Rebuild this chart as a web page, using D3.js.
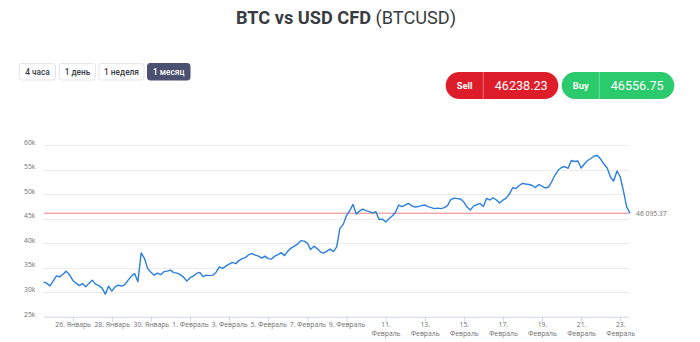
<!DOCTYPE html>
<html>
<head>
<meta charset="utf-8">
<script src="https://cdn.jsdelivr.net/npm/d3@7"></script>
<style>
  html, body { margin: 0; padding: 0; background: #fff; }
  svg { display: block; }
</style>
</head>
<body>
<svg id="chart" width="700" height="342"></svg>
<script>
// BTC/USD price, one reading every 4 hours from 24 Jan 2021 12:00 UTC
const startTime = Date.UTC(2021, 0, 24, 12);
const stepHours = 4;
const prices = [
  32100, 31840, 31290, 32245, 33330, 33120, 33670, 34290, 33570, 32450,
  31840, 31330, 31740, 31120, 31840, 32450, 31630, 31330, 30820, 29590,
  31230, 30200, 31080, 31430, 31230, 31530, 32450, 33270, 33780, 32140,
  38000, 36900, 34800, 34080, 33470, 33880, 33570, 34180, 34290, 34490,
  33980, 33880, 33570, 33060, 32250, 32960, 33270, 33820, 34020, 33160,
  33470, 33370, 33470, 34080, 35160, 34840, 35310, 35710, 36060, 35820,
  36430, 36840, 37040, 37650, 37860, 37550, 37350, 36940, 37350, 36840,
  36740, 37350, 37650, 38060, 37450, 38370, 38980, 39390, 39800, 40510,
  40410, 40000, 38670, 39390, 38880, 38230, 37960, 38370, 38780, 38270,
  39250, 43060, 43820, 45610, 46630, 47900, 45920, 46530, 46940, 46630,
  46430, 46120, 46430, 44800, 44900, 44290, 44900, 45510, 46230, 47760,
  47450, 47760, 48100, 47650, 47350, 47450, 47650, 47760, 47450, 47250,
  47040, 47140, 47040, 47250, 47650, 48880, 49180, 49080, 48980, 48370,
  47350, 46740, 47550, 47860, 48100, 47450, 49120, 48780, 49250, 48780,
  48160, 48780, 49180, 50000, 51290, 51120, 51740, 52180, 52040, 51940,
  51740, 51330, 51940, 51630, 51230, 51430, 52550, 53880, 54900, 55410,
  55610, 55250, 56840, 56630, 56740, 55310, 56120, 56840, 57250, 57760,
  57860, 57140, 56120, 55310, 53470, 52650, 54690, 53530, 50610, 47350,
  46095.37
];
const lastPrice = 46095.37;
const sellPrice = "46238.23";
const buyPrice = "46556.75";

const periods = ["4 часа", "1 день", "1 неделя", "1 месяц"];
const activePeriod = "1 месяц";

const yTicks = [25000, 30000, 35000, 40000, 45000, 50000, 55000, 60000];
const xTickDates = [
  "2021-01-26", "2021-01-28", "2021-01-30", "2021-02-01", "2021-02-03",
  "2021-02-05", "2021-02-07", "2021-02-09", "2021-02-11", "2021-02-13",
  "2021-02-15", "2021-02-17", "2021-02-19", "2021-02-21", "2021-02-23"
];
const xTickLabels = [
  ["26. Январь"], ["28. Январь"], ["30. Январь"], ["1. Февраль"], ["3. Февраль"],
  ["5. Февраль"], ["7. Февраль"], ["9. Февраль"], ["11.", "Февраль"], ["13.", "Февраль"],
  ["15.", "Февраль"], ["17.", "Февраль"], ["19.", "Февраль"], ["21.", "Февраль"], ["23.", "Февраль"]
];

const svg = d3.select("#chart");
const uiFont = "Roboto, 'Noto Sans', sans-serif";
const axisFont = "'Open Sans', 'Noto Sans', sans-serif";

// ---- title ----
const title = svg.append("text")
  .attr("x", 346).attr("y", 24)
  .attr("text-anchor", "middle")
  .style("font-family", uiFont)
  .style("font-size", "18.2px")
  .attr("fill", "#383c42");
title.append("tspan").attr("font-weight", 700).text("BTC vs USD CFD");
title.append("tspan").attr("font-weight", 400).text(" (BTCUSD)");

// ---- period buttons ----
const btnBoxes = [[19.5, 36], [59.5, 36], [99, 45], [147.5, 42.5]];
const btns = svg.append("g").selectAll("g").data(periods).join("g")
  .attr("transform", (d, i) => `translate(${btnBoxes[i][0]},63.5)`);
btns.append("rect")
  .attr("width", (d, i) => btnBoxes[i][1]).attr("height", 16.5).attr("rx", 2.5)
  .attr("fill", d => d === activePeriod ? "#4a5170" : "#fff")
  .attr("stroke", d => d === activePeriod ? "#4a5170" : "#e4e5ea")
  .attr("stroke-width", 1);
btns.append("text")
  .attr("x", (d, i) => btnBoxes[i][1] / 2).attr("y", 11.3)
  .attr("text-anchor", "middle")
  .style("font-family", uiFont).style("font-size", "8.3px").attr("font-weight", 500)
  .attr("fill", d => d === activePeriod ? "#fff" : "#3a3d44")
  .text(d => d);

// ---- sell / buy quotes ----
const quotes = [
  { label: "Sell", price: sellPrice, x: 445.7, color: "#de1d2b" },
  { label: "Buy", price: buyPrice, x: 561.7, color: "#2bca6c" }
];
const q = svg.append("g").selectAll("g").data(quotes).join("g")
  .attr("transform", d => `translate(${d.x},72)`);
q.append("rect").attr("width", 112.6).attr("height", 27).attr("rx", 13.5).attr("fill", d => d.color);
q.append("line").attr("x1", 37.6).attr("x2", 37.6).attr("y1", 0).attr("y2", 27)
  .attr("stroke", "rgba(255,255,255,0.35)").attr("stroke-width", 1);
q.append("text").attr("x", 19).attr("y", 16.6).attr("text-anchor", "middle")
  .style("font-family", uiFont).style("font-size", "9.3px").attr("font-weight", 700)
  .attr("fill", "#fff").text(d => d.label);
q.append("text").attr("x", 75.5).attr("y", 17.5).attr("text-anchor", "middle")
  .style("font-family", uiFont).style("font-size", "12.6px").attr("font-weight", 400)
  .attr("fill", "#fff").text(d => d.price);

// ---- price chart ----
const dates = prices.map((_, i) => new Date(startTime + i * stepHours * 3600e3));
const x = d3.scaleUtc().domain(d3.extent(dates)).range([43.4, 630]);
const y = d3.scaleLinear().domain([25000, 60000]).range([316.7, 145]);

// horizontal grid
svg.append("g").selectAll("line").data(yTicks.slice(1)).join("line")
  .attr("x1", 44).attr("x2", 629)
  .attr("y1", d => Math.round(y(d)) + 0.5).attr("y2", d => Math.round(y(d)) + 0.5)
  .attr("stroke", "#ebebeb").attr("stroke-width", 1);

// y axis labels
const yAxis = svg.append("g").attr("transform", "translate(43.4,0)")
  .call(d3.axisLeft(y).tickValues(yTicks).tickSize(0).tickPadding(8)
    .tickFormat(d => d / 1000 + "k"));
yAxis.select(".domain").remove();
yAxis.selectAll("text")
  .attr("dy", "-0.1em")
  .style("font-family", axisFont).style("font-size", "6.8px").attr("fill", "#707070");

// x axis
const tickDates = xTickDates.map(s => new Date(s + "T00:00:00Z"));
const xAxis = svg.append("g").attr("transform", "translate(0,316.7)")
  .call(d3.axisBottom(x).tickValues(tickDates).tickSize(5).tickFormat(() => ""));
xAxis.select(".domain").attr("d", "M44,0.5H629").attr("stroke", "#ccd6eb");
xAxis.selectAll(".tick line").attr("stroke", "#ccd6eb");
xAxis.selectAll(".tick text").each(function (d, i) {
  const t = d3.select(this).attr("y", null).attr("dy", null)
    .style("font-family", axisFont).style("font-size", "6.8px").attr("fill", "#707070");
  xTickLabels[i].forEach((line, k) => {
    t.append("tspan").attr("x", 0).attr("y", 10.8 + k * 9).text(line);
  });
});

// current price line
svg.append("line")
  .attr("x1", 44).attr("x2", 629)
  .attr("y1", y(lastPrice)).attr("y2", y(lastPrice))
  .attr("stroke", "#ef7f7f").attr("stroke-width", 1);

// price series
svg.append("path")
  .datum(prices)
  .attr("fill", "none")
  .attr("stroke", "#2b7fe0")
  .attr("stroke-width", 1.4)
  .attr("stroke-linejoin", "round")
  .attr("d", d3.line().x((d, i) => x(dates[i])).y(d => y(d)));

// current price label
const fmt = d3.formatLocale({ decimal: ".", thousands: " ", grouping: [3], currency: ["", ""] }).format(",.2f");
svg.append("text")
  .attr("x", 636).attr("y", y(lastPrice) + 2.4)
  .style("font-family", axisFont).style("font-size", "6.8px").attr("fill", "#707070")
  .text(fmt(lastPrice));
</script>
</body>
</html>
